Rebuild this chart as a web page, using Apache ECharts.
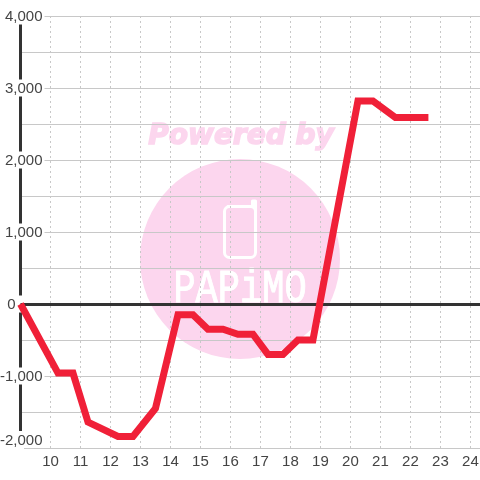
<!doctype html>
<html>
<head>
<meta charset="utf-8">
<style>
html, body { margin: 0; padding: 0; background: #fff; }
#chart-panel { width: 480px; height: 480px; }
</style>
<script src="https://cdn.jsdelivr.net/npm/echarts@6/dist/echarts.min.js"></script>
</head>
<body>
<div id="chart-panel"></div>
<script type="text/javascript">
// time of day (hours) and value
var hours = [9, 10.25, 10.75, 11.25, 12.25, 12.75, 13.5, 14.25, 14.75, 15.25, 15.75, 16.25, 16.75, 17.25, 17.75, 18.25, 18.75, 20.25, 20.75, 21.5, 22.6];
var values = [0, -960, -960, -1640, -1840, -1840, -1450, -150, -150, -350, -350, -420, -420, -700, -700, -500, -500, 2820, 2820, 2590, 2590];
var yTicks = [-2000, 4000];
var xRange = [9, 24.32];

var points = [];
for (var i = 0; i < hours.length; i++) {
    points.push([hours[i], values[i]]);
}

var pink = '#fcd6ee';
var myChart = echarts.init(document.getElementById('chart-panel'));
var option = {
    animation: false,
    backgroundColor: '#fff',
    textStyle: { fontFamily: 'Liberation Sans' },
    grid: { left: 20.5, right: 0, top: 16, bottom: 32, outerBoundsMode: 'none' },
    graphic: [
        { type: 'circle', z: -10, shape: { cx: 240, cy: 259, r: 100 }, style: { fill: pink } },
        { type: 'text', z: -10, x: 241, y: 137, style: { text: 'Powered by', fill: pink, stroke: pink, lineWidth: 1.5, font: 'italic bold 28px "DejaVu Sans"', align: 'center', verticalAlign: 'middle' } },
        { type: 'rect', z: -9, shape: { x: 224.5, y: 206.5, width: 31, height: 51, r: 5 }, style: { fill: 'none', stroke: '#fff', lineWidth: 3 } },
        { type: 'polyline', z: -9, shape: { points: [[228, 206.5], [252.5, 206.5], [252.5, 201], [255.5, 201], [255.5, 212]] }, style: { fill: 'none', stroke: '#fff', lineWidth: 3, lineJoin: 'round', lineCap: 'round' } },
        { type: 'text', z: -9, x: 240, y: 290, scaleY: 1.25, style: { text: 'PAPiMO', fill: '#fff', stroke: '#fff', lineWidth: 0.8, font: '37px "Liberation Mono"', align: 'center', verticalAlign: 'middle' } },
        // hides the end of the axis line under the lowest label
        { type: 'rect', z: 100, shape: { x: 17, y: 446, width: 7, height: 5 }, style: { fill: '#fff' } }
    ],
    xAxis: {
        type: 'value',
        min: xRange[0],
        max: xRange[1],
        interval: 1,
        axisLine: { show: false },
        axisTick: { show: false },
        axisLabel: {
            showMaxLabel: false,
            color: '#444',
            fontSize: 15,
            margin: 6,
            formatter: function (v) { return v === 9 ? '' : String(v); }
        },
        splitLine: { show: true, lineStyle: { color: '#c8c8c8', type: [2, 3], width: 1 } }
    },
    yAxis: {
        type: 'value',
        min: yTicks[0],
        max: yTicks[1],
        interval: 500,
        axisLine: { show: true, onZero: false, lineStyle: { color: '#333', width: 3 } },
        axisTick: { show: false },
        axisLabel: {
            color: '#444',
            fontSize: 15,
            margin: -24,
            align: 'right',
            verticalAlignMinLabel: 'bottom',
            backgroundColor: '#fff',
            padding: [2, 2, 0, 2],
            formatter: function (v) {
                if (v % 1000 !== 0) return '';
                if (v === 0) return '{zero|0}';
                return echarts.format.addCommas(v);
            },
            rich: { zero: { color: '#444', fontSize: 15, backgroundColor: 'transparent', padding: [0, 27, 0, 0] } }
        },
        splitLine: { show: true, lineStyle: { color: '#c8c8c8', width: 1 } }
    },
    series: [
        {
            type: 'line',
            data: [],
            z: 3,
            markLine: {
                silent: true,
                symbol: 'none',
                label: { show: false },
                lineStyle: { color: '#333', type: 'solid', width: 3 },
                data: [{ yAxis: 0 }]
            }
        },
        {
            type: 'line',
            data: points,
            z: 5,
            showSymbol: false,
            symbol: 'none',
            clip: false,
            lineStyle: { color: '#f02038', width: 7, cap: 'butt', join: 'miter' }
        }
    ]
};
myChart.setOption(option);
</script>
</body>
</html>
